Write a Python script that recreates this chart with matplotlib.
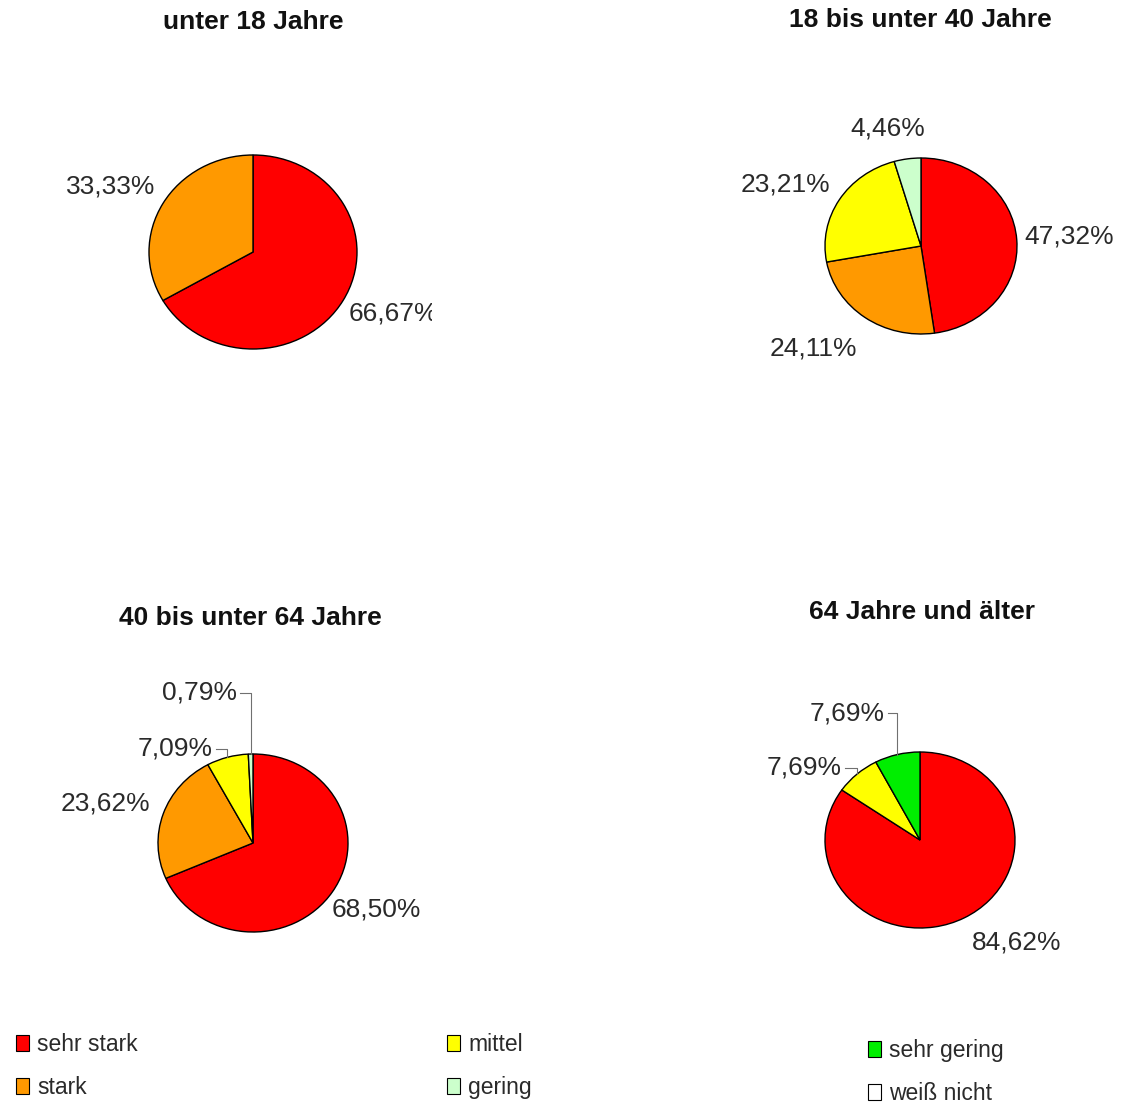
import numpy as np
import matplotlib.pyplot as plt
from matplotlib.patches import Patch
from matplotlib.transforms import Bbox

plt.rcParams['font.family'] = ['Liberation Sans', 'DejaVu Sans']

# ==================== DATA ====================
categories = ["sehr stark", "stark", "mittel", "gering", "sehr gering", "weiß nicht"]
groups = ["unter 18 Jahre", "18 bis unter 40 Jahre", "40 bis unter 64 Jahre", "64 Jahre und älter"]
unter_18 = [66.67, 33.33, 0, 0, 0, 0]
von_18_bis_40 = [47.32, 24.11, 23.21, 4.46, 0, 0]
von_40_bis_64 = [68.50, 23.62, 7.09, 0.79, 0, 0]
ab_64 = [84.62, 0, 7.69, 0, 7.69, 0]
shares = [unter_18, von_18_bis_40, von_40_bis_64, ab_64]

# ==================== LAYOUT / STYLE ====================
colors = ["#FF0000", "#FF9900", "#FFFF00", "#CCFFCC", "#00EE00", "#FFFFFF"]
W, H = 1135, 1104
# pie centre and radii in pixels (the source is a bit stretched horizontally)
pie_boxes = [(253, 252, 104, 97), (921, 246, 96, 88), (253, 843, 95, 89), (920, 840, 95, 88)]
# right edge of each chart area (labels are cut there in the source)
clip_right = [432, W, W, W]
title_pos = [(253, 22), (920, 20), (250, 618), (922, 612)]
# label anchor in radius units, alignment, leader line flag (per non-zero slice)
label_layout = [
    [(0.92, -0.63, 'left', False), (-0.94, 0.68, 'right', False)],
    [(1.08, 0.11, 'left', False), (-0.67, -1.16, 'right', False),
     (-0.95, 0.70, 'right', False), (-0.35, 1.34, 'center', False)],
    [(0.83, -0.75, 'left', False), (-1.08, 0.44, 'right', False),
     (-0.42, 1.06, 'right', True), (-0.17, 1.69, 'right', True)],
    [(0.55, -1.16, 'left', False), (-0.82, 0.82, 'right', True),
     (-0.37, 1.44, 'right', True)],
]
K = 2.2
txt_col = "#2a2a2a"

fig = plt.figure(figsize=(W / 100, H / 100), dpi=100)

for i, vals in enumerate(shares):
    cx, cy, rx, ry = pie_boxes[i]
    ax = fig.add_axes([(cx - rx * K) / W, 1 - (cy + ry * K) / H, 2 * rx * K / W, 2 * ry * K / H])
    v = [x for x in vals if x > 0]
    c = [col for x, col in zip(vals, colors) if x > 0]
    wedges, _ = ax.pie(v, colors=c, startangle=90, counterclock=False,
                       wedgeprops=dict(edgecolor='black', linewidth=1.0))
    ax.set_aspect('auto')
    ax.set_xlim(-K, K)
    ax.set_ylim(-K, K)
    ax.axis('off')

    clip = Bbox.from_extents(0, 0, clip_right[i], H)
    px_x = 1.0 / rx  # one pixel in radius units
    for w, val, (lx, ly, ha, leader) in zip(wedges, v, label_layout[i]):
        lab = f"{val:.2f}".replace('.', ',') + '%'
        t = ax.text(lx, ly, lab, ha=ha, va='center', fontsize=19, color=txt_col)
        t.set_clip_box(clip)
        t.set_clip_on(True)
        if leader:
            mid = np.deg2rad((w.theta1 + w.theta2) / 2)
            ex, ey = np.cos(mid), np.sin(mid)
            x0 = lx + 3 * px_x
            ax.plot([x0, ex, ex], [ly, ly, ey], color='#707070', lw=0.8, clip_on=False)

    tx, ty = title_pos[i]
    fig.text(tx / W, 1 - ty / H, groups[i], ha='center', va='center',
             fontsize=19, fontweight='bold', color='#111111')

# ==================== LEGEND ====================
legend_cols = [(0, 2, 5, 1066), (2, 4, 436, 1066), (4, 6, 857, 1072)]
for start, stop, lx, ly in legend_cols:
    handles = [Patch(facecolor=colors[i], edgecolor='black', linewidth=0.8) for i in range(start, stop)]
    fig.legend(handles, categories[start:stop], loc='center left',
               bbox_to_anchor=(lx / W, 1 - ly / H), frameon=False, fontsize=16.5,
               handlelength=0.55, handleheight=0.7, handletextpad=0.35, labelspacing=0.85,
               borderpad=0, labelcolor=txt_col)

fig.savefig("out.png", dpi=100)
